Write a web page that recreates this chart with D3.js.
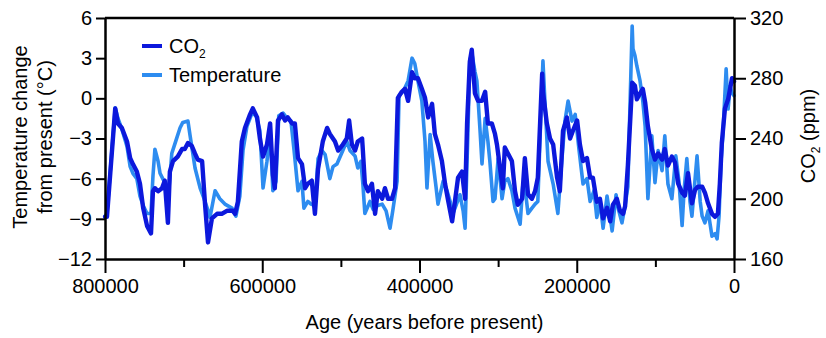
<!DOCTYPE html>
<html><head><meta charset="utf-8">
<script src="https://cdn.jsdelivr.net/npm/d3@7"></script>
<style>
body{margin:0;background:#fff}
svg{display:block}
text{font-family:"Liberation Sans",Arial,Helvetica,sans-serif;fill:#000}
</style>
</head><body>
<svg id="chart" width="826" height="338"></svg>
<script>
// Tick values
const tempTicks = [-12, -9, -6, -3, 0, 3, 6];
const co2Ticks = [160, 200, 240, 280, 320];
const ageMajorTicks = [800000, 600000, 400000, 200000, 0];
const ageMinorTicks = [700000, 500000, 300000, 100000];

// Series: [age in thousands of years before present, value]
const co2Series = [
[800,188],[797.5,188],[787,260],[783.5,250],[778.5,247],[772,238],[768,227],[764.5,223],[759.5,218],[755.5,210],
[751.5,194],[746.5,182],[741.5,177],[739,205],[736.5,207],[732.5,205],[727.5,207],[724,212],[720,184],[717.5,218],
[713.5,225],[707.5,228],[702,233],[698.5,233],[694.5,237],[689.5,235],[685.5,230],[682,226],[676.5,225],[673,198],
[669,171],[664,187],[657.5,190],[651.5,190],[645,192],[637.5,192],[634.5,190],[631,198],[626,238],[622,247],
[615.5,256],[612,260],[606.5,254],[603,240],[599,228],[594,236],[590,250],[586.5,216],[584,207],[580,252],
[575,256],[571,252],[567.5,254],[562,250],[558.5,250],[554.5,227],[549.5,223],[545.5,207],[542,210],[537,212],
[533,190],[529,220],[523,238],[517.5,247],[514,243],[507.5,238],[503.5,232],[497.5,236],[492.5,240],[489.5,252],
[486,236],[482,232],[478.5,238],[473,240],[472,232],[469.5,210],[465.5,205],[460.5,210],[456.5,190],[453,205],
[447.5,200],[444,207],[440,200],[435,200],[431,207],[427.5,267],[422.5,271],[418.5,273],[414.5,265],[409.5,284],
[406,280],[402,280],[397,273],[393,267],[389,254],[384,263],[380.5,243],[376.5,236],[371.5,225],[367.5,210],
[364,200],[358.5,185],[355,198],[351,214],[346,218],[342,200],[339.5,250],[336,291],[333.5,299],[329.5,270],
[325.5,265],[320.5,265],[316.5,271],[313,250],[308,250],[304,243],[301.5,236],[297.5,220],[294,207],[291.5,234],
[287.5,230],[282.5,225],[278.5,205],[275,196],[269.5,200],[266,227],[262,203],[257,200],[253,205],[249.5,214],
[244,283],[243,271],[238,250],[234,240],[230,236],[225,214],[221.5,205],[217.5,245],[212.5,254],[208.5,240],
[205,245],[199.5,252],[196,236],[192,225],[187,227],[183,214],[179.5,214],[174.5,198],[170.5,200],[166.5,187],
[161.5,194],[157.5,185],[154,196],[149,200],[145,192],[141,190],[138.5,195],[135,222],[129.5,277],[126,275],
[123.5,266],[119.5,270],[116,273],[113,264],[109.5,248],[104.5,233],[100.5,226],[96.5,230],[91.5,226],[88,233],
[84,222],[79,228],[75,224],[71,210],[66,204],[62.5,202],[58.5,217],[53.5,197],[49.5,206],[46,208],
[40.5,208],[37,204],[33,197],[28,190],[24,188],[20.5,190],[18,210],[15.5,237],[11.5,260],[7.5,266],
[2.5,280],[0,278]
];

const tempSeries = [
[800,-8.8],[797.5,-8.6],[787,-0.7],[783.5,-1.5],[778.5,-2.3],[772,-3.6],[768,-5.1],[764.5,-5.6],[759.5,-6.0],[755.5,-7.3],
[751.5,-8.0],[746.5,-8.6],[741.5,-8.6],[739,-5.8],[736.5,-3.8],[732.5,-4.7],[730,-5.6],[724,-6.3],[720,-7.7],[715,-4.1],
[710,-3.2],[704.5,-2.2],[701,-1.8],[694.5,-1.7],[692,-2.7],[685.5,-5.2],[679,-6.7],[674,-7.5],[670,-8.2],[666.5,-8.9],
[660,-6.9],[654,-7.5],[647.5,-7.9],[638.5,-8.2],[633.5,-8.8],[628.5,-7.3],[624.5,-3.9],[619.5,-2.1],[613,-1.1],[608,-1.3],
[603,-2.4],[599,-6.7],[594,-4.7],[590,-2.4],[586.5,-6.9],[582.5,-6.2],[579,-1.3],[573.5,-1.1],[568.5,-1.5],[563.5,-1.7],
[559.5,-3.9],[554.5,-6.9],[549.5,-6.2],[547,-8.2],[542,-7.7],[538,-7.9],[533,-8.0],[529,-4.5],[524,-3.9],[520,-4.2],
[514,-6.0],[510,-5.1],[505,-4.9],[497.5,-3.9],[492.5,-3.2],[488.5,-3.9],[482,-4.3],[478.5,-5.2],[474.5,-4.7],[472,-6.4],
[469.5,-8.6],[463,-7.7],[459,-8.3],[453,-8.0],[447.5,-7.9],[442.5,-8.4],[437.5,-9.7],[434,-8.4],[428.5,-6.2],[426,0.2],
[420,0.6],[414.5,1.3],[409.5,3.0],[406,2.6],[402,1.3],[397,-0.2],[393,-3.2],[390.5,-6.7],[386.5,-2.7],[383,-4.7],
[379,-6.6],[376.5,-7.9],[370,-6.2],[365,-6.9],[361,-7.7],[357.5,-8.6],[353.5,-8.0],[348.5,-7.2],[344.5,-8.4],[342,-9.7],
[338.5,-2.7],[336,2.8],[333.5,3.4],[329.5,2.0],[327,1.3],[323,-2.4],[320.5,-4.9],[316.5,-1.5],[313,-3.2],[310.5,-4.7],
[306.5,-7.7],[304,-7.5],[300,-4.5],[295,-7.5],[291.5,-6.2],[287.5,-6.0],[282.5,-6.9],[278.5,-8.2],[272,-9.4],[268.5,-6.4],
[266,-6.6],[262,-8.6],[257,-8.2],[253,-7.9],[249.5,-7.7],[245.5,-1.0],[243,2.8],[240.5,-0.2],[236.5,-4.7],[230,-6.4],
[224,-8.6],[220,-5.4],[215,-1.7],[211,-0.2],[206,-1.7],[202,-1.2],[197,-3.9],[192,-6.4],[187,-6.0],[183,-7.7],
[178,-6.9],[174.5,-8.9],[170.5,-7.7],[166.5,-9.7],[161.5,-7.3],[155,-9.9],[150,-7.2],[146.5,-8.4],[142.5,-9.3],[138.5,-8.0],
[135,-6.6],[132.5,-1.0],[129.5,5.4],[128.5,3.7],[126,3.2],[123.5,2.4],[119.5,1.3],[116,-0.2],[113,-2.1],[109.5,-7.5],
[104.5,-2.8],[100.5,-6.3],[96.5,-3.9],[91.5,-5.4],[88,-2.8],[84,-6.4],[79,-7.5],[74,-4.3],[70,-6.2],[66,-9.5],
[63.5,-6.9],[60,-4.5],[56,-7.7],[53.5,-8.8],[47,-4.3],[43,-7.7],[40.5,-8.8],[37,-9.3],[33,-8.4],[28,-10.3],
[24,-10.1],[21.5,-10.5],[19,-8.8],[16.5,-4.7],[14,-2.6],[10,2.2],[7.5,-0.8],[5,0.9],[2.5,0.4],[0,0.2]
];

const legendItems = [
  {label: "CO", sub: "2", color: "#0c18dc"},
  {label: "Temperature", sub: "", color: "#2d8cf0"}
];

// Layout
const L = 105, R = 734, T = 18, B = 259;
const FS = 20;
const svg = d3.select("#chart");

const x = d3.scaleLinear().domain([800000, 0]).range([L, R]);
const yT = d3.scaleLinear().domain([-12, 6]).range([B, T]);
const yC = d3.scaleLinear().domain([160, 320]).range([B, T]);

const tempColor = legendItems[1].color, co2Color = legendItems[0].color;

// Lines
const lineT = d3.line().x(d => x(d[0] * 1000)).y(d => yT(d[1]));
const lineC = d3.line().x(d => x(d[0] * 1000)).y(d => yC(d[1]));

svg.append("path").datum(tempSeries).attr("d", lineT)
  .attr("fill", "none").attr("stroke", tempColor).attr("stroke-width", 3.6)
  .attr("stroke-linejoin", "round").attr("stroke-linecap", "round");
svg.append("path").datum(co2Series).attr("d", lineC)
  .attr("fill", "none").attr("stroke", co2Color).attr("stroke-width", 4.4)
  .attr("stroke-linejoin", "round").attr("stroke-linecap", "round");

// Top frame line
svg.append("line").attr("x1", L).attr("x2", R).attr("y1", T).attr("y2", T)
  .attr("stroke", "#000").attr("stroke-width", 2.5);

function styleAxis(g) {
  g.select(".domain").attr("stroke", "#000").attr("stroke-width", 2.5);
  g.selectAll(".tick line").attr("stroke", "#000").attr("stroke-width", 2);
  g.selectAll(".tick text").attr("font-size", FS).attr("fill", "#000")
    .attr("font-family", '"Liberation Sans",Arial,sans-serif');
}

// Left axis
const gL = svg.append("g").attr("transform", `translate(${L},0)`)
  .call(d3.axisLeft(yT).tickValues(tempTicks).tickSize(9).tickSizeOuter(0).tickPadding(4));
styleAxis(gL);

// Right axis
const gR = svg.append("g").attr("transform", `translate(${R},0)`)
  .call(d3.axisRight(yC).tickValues(co2Ticks).tickSize(12).tickSizeOuter(0).tickPadding(4));
styleAxis(gR);

// Bottom axis (major)
const gB = svg.append("g").attr("transform", `translate(0,${B})`)
  .call(d3.axisBottom(x).tickValues(ageMajorTicks).tickFormat(d3.format("d")).tickSize(14).tickSizeOuter(0).tickPadding(6));
styleAxis(gB);
// minor ticks
svg.append("g").attr("transform", `translate(0,${B})`)
  .call(d3.axisBottom(x).tickValues(ageMinorTicks).tickFormat("").tickSize(8).tickSizeOuter(0))
  .call(g => { g.select(".domain").remove(); g.selectAll(".tick line").attr("stroke", "#000").attr("stroke-width", 2); });

// Axis titles
svg.append("text").attr("x", (L + R) / 2 + 5).attr("y", 329).attr("text-anchor", "middle")
  .attr("font-size", FS).text("Age (years before present)");

const yTitle = svg.append("g").attr("transform", `translate(0,137) rotate(-90)`);
yTitle.append("text").attr("x", 0).attr("y", 27).attr("text-anchor", "middle")
  .attr("font-size", FS).text("Temperature change");
yTitle.append("text").attr("x", 0).attr("y", 52).attr("text-anchor", "middle")
  .attr("font-size", FS).text("from present (°C)");

const rTitle = svg.append("text").attr("transform", `translate(815,136) rotate(-90)`)
  .attr("text-anchor", "middle").attr("font-size", FS);
rTitle.append("tspan").text("CO");
rTitle.append("tspan").attr("font-size", 12).attr("dy", 5).text("2");
rTitle.append("tspan").attr("dy", -5).text(" (ppm)");

// Legend
const leg = svg.append("g");
legendItems.forEach((it, i) => {
  const yy = 46 + i * 29;
  leg.append("line").attr("x1", 142).attr("x2", 162).attr("y1", yy).attr("y2", yy)
    .attr("stroke", it.color).attr("stroke-width", 4);
  const t = leg.append("text").attr("x", 169).attr("y", yy + 7).attr("font-size", FS);
  t.append("tspan").text(it.label);
  if (it.sub) t.append("tspan").attr("font-size", 12).attr("dy", 5).text(it.sub);
});
</script>
</body></html>
